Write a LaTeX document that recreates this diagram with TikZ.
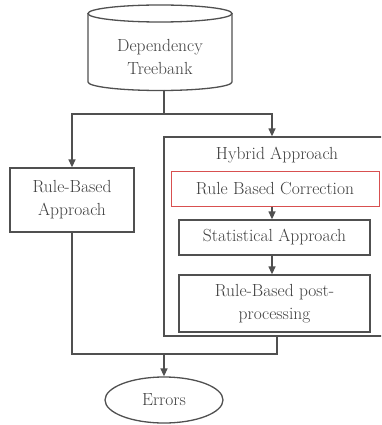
\documentclass[tikz,border=0pt]{standalone}
\usetikzlibrary{arrows.meta,shapes.geometric}
\definecolor{ln}{HTML}{505050}
\definecolor{tx}{HTML}{404040}
\definecolor{rd}{HTML}{D85050}
\begin{document}
\begin{tikzpicture}[x=1pt,y=-1pt,
  every node/.style={font=\fontsize{17.5}{23}\selectfont, text=tx, align=center, inner sep=0pt},
  box/.style={draw=ln, line width=1.3pt, rectangle},
  conn/.style={draw=ln, line width=1.3pt},
  arr/.style={conn, -{Triangle[width=7pt,length=8pt]}}]
\clip (0,0) rectangle (381,425);
\fill[white] (0,0) rectangle (381,425);
% cylinder
\draw[ln, line width=1.3pt, fill=white] (88,13.5) -- (88,82) arc[start angle=180, end angle=0, x radius=72, y radius=8.5] -- (232,13.5);
\draw[ln, line width=1.3pt] (160,13.5) ellipse [x radius=72, y radius=8.5];
\node (db) at (160,57) {Dependency\\Treebank};
\coordinate (dbb) at (164,90);
\coordinate (split) at (164,114);
% boxes
\node[box, minimum width=124pt, minimum height=64pt] (rb) at (72,200) {Rule-Based\\Approach};
\node[box, minimum width=231pt, minimum height=199pt] (hy) at (279.5,236.5) {};
\node (hyl) at (277,155) {Hybrid Approach};
\node[box, draw=rd, line width=1pt, minimum width=208pt, minimum height=35pt] (rbc) at (275,188.5) {Rule Based Correction};
\node[box, minimum width=191pt, minimum height=35pt] (st) at (274.5,237.5) {Statistical Approach};
\node[box, minimum width=191pt, minimum height=57pt] (pp) at (274.5,303.5) {Rule-Based post-\\processing};
\node[draw=ln, line width=1.3pt, ellipse, minimum width=118pt, minimum height=46pt] (err) at (164,400) {Errors};
\coordinate (join) at (164,354);
% connectors
\draw[conn] (dbb) -- (split);
\draw[arr] (split) -| (rb.north);
\draw[arr] (split) -| ([xshift=-7.5pt]hy.north);
\draw[arr] ([xshift=-3pt]rbc.south) -- ([xshift=-2.5pt]st.north);
\draw[arr] ([xshift=-2.5pt]st.south) -- ([xshift=-2.5pt]pp.north);
\draw[conn] (rb.south) |- (join);
\draw[conn] ([xshift=-2.5pt]hy.south) |- (join);
\draw[arr] (join) -- (err.north);
\end{tikzpicture}
\end{document}
